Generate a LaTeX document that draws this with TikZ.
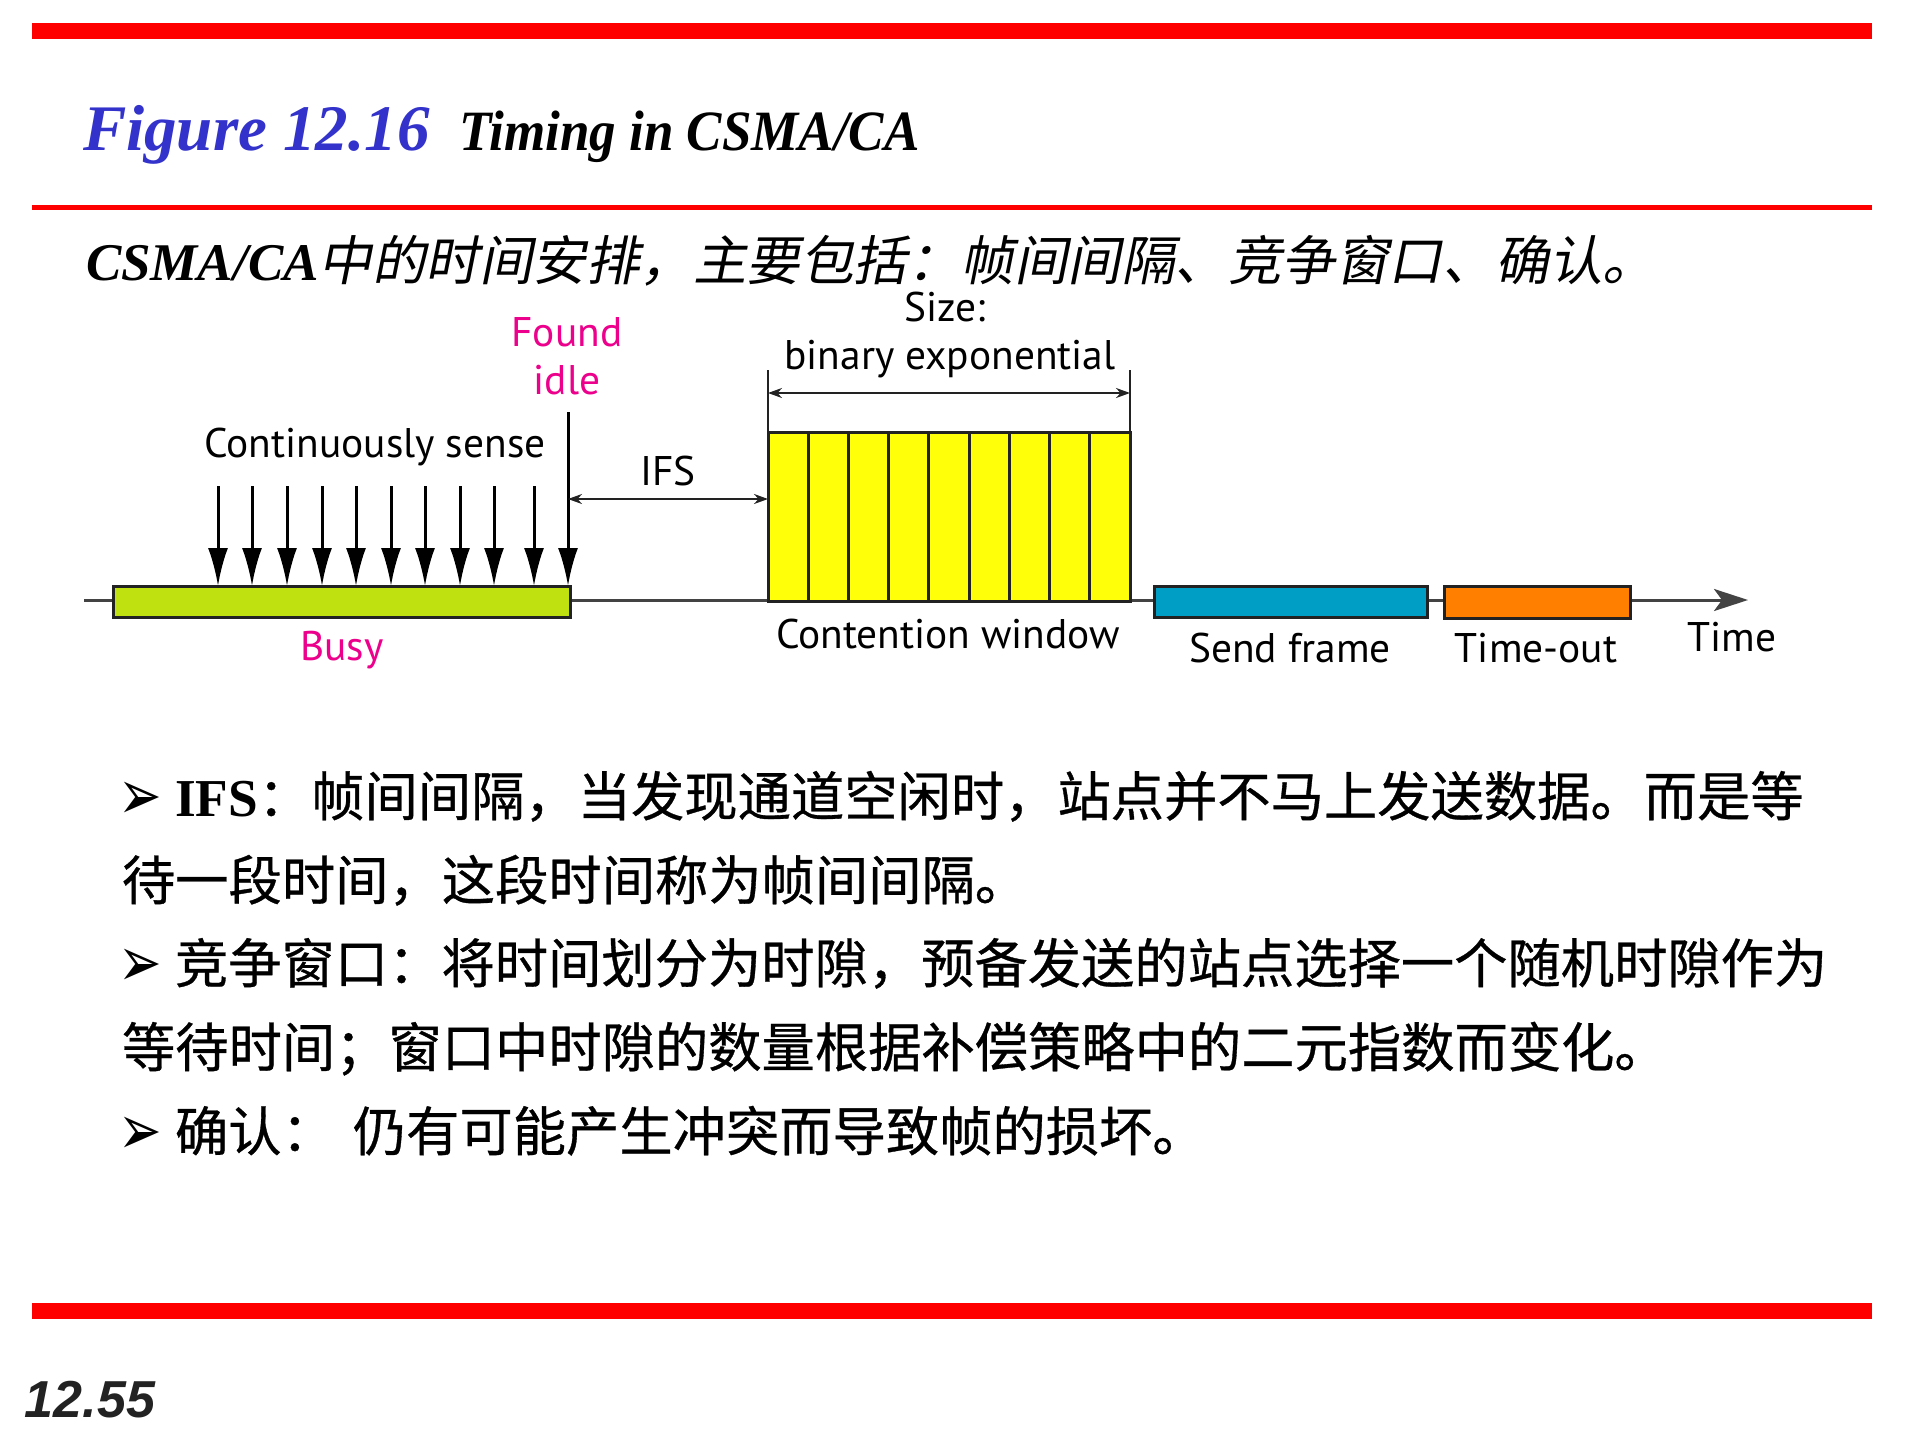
\documentclass[tikz,border=0pt]{standalone}
\usepackage{fontspec}
\usetikzlibrary{arrows.meta,calc}
\setmainfont{Liberation Serif}
\newfontfamily\diagfont{PT Sans}
\newfontfamily\cjk[FakeBold=0.6]{Noto Sans CJK SC}
\newfontfamily\cjkit[FakeSlant=0.2]{Noto Sans CJK SC}
\newfontfamily\symfont{DejaVu Sans}
\newfontfamily\pagefont{Liberation Sans}
\newfontfamily\condserif[FakeStretch=0.93]{Liberation Serif}

\definecolor{busyc}{RGB}{190,225,15}
\definecolor{cwc}{RGB}{255,255,10}
\definecolor{sendc}{RGB}{0,158,196}
\definecolor{toc}{RGB}{255,128,0}
\definecolor{pinkc}{RGB}{236,0,140}
\definecolor{figblue}{RGB}{51,51,204}
\definecolor{ink}{RGB}{34,34,34}
\definecolor{rulered}{RGB}{255,0,0}

\begin{document}
\begin{tikzpicture}[x=0.5pt,y=-0.5pt,
  txt/.style={anchor=base west, inner sep=0pt, outer sep=0pt},
  lbl/.style={anchor=base, inner sep=0pt, font=\diagfont\fontsize{20.7pt}{24pt}\selectfont},
  box/.style={draw=ink, line width=1.5pt, inner sep=0pt, outer sep=0pt, anchor=north west},
  slotline/.style={draw=ink, line width=1.5pt},
  sense/.style={draw=black, line width=1.5pt, -{Latex[length=19pt,width=10pt]}},
  dimarrow/.style={draw=ink, line width=1pt, {Stealth[length=7pt,width=5pt]}-{Stealth[length=7pt,width=5pt]}},
  extline/.style={draw=ink, line width=1pt},
  timeaxis/.style={draw=ink!85, line width=1.5pt, -{Stealth[length=17pt,width=11pt,inset=4pt]}},
  body/.style={txt, font=\fontsize{26.65pt}{30pt}\selectfont},
  bullet/.style={txt, font=\symfont\fontsize{26pt}{30pt}\selectfont}]

\fill[white] (0,0) rectangle (1920,1440);
\useasboundingbox (0,0) rectangle (1920,1440);

% red rules
\fill[rulered] (32,23) rectangle (1872,39);
\fill[rulered] (32,205) rectangle (1872,210);
\fill[rulered] (32,1303) rectangle (1872,1319);

% heading
\node[txt, text=figblue, font=\fontsize{32.5pt}{36pt}\selectfont\bfseries\itshape] (fig) at (83,150) {Figure 12.16};
\node[txt, font=\condserif\fontsize{28.5pt}{32pt}\selectfont\bfseries\itshape] (figtitle) at (459,150) {Timing in CSMA/CA};

% summary line
\node[txt, font=\fontsize{26.5pt}{30pt}\selectfont] (summary) at (86,280)
  {{\bfseries\itshape CSMA/CA}{\cjkit\fontsize{26.75pt}{30pt}\selectfont 中的时间安排，主要包括：帧间间隔、竞争窗口、确认。}};

% time axis
\coordinate (axstart) at (84,600);
\coordinate (axend) at (1748,600);
\draw[timeaxis] (axstart) -- (axend);

% channel states
\node[box, fill=busyc, minimum width=228.5pt, minimum height=15.5pt] (busy) at (113,586) {};
\node[box, fill=cwc, minimum width=181pt, minimum height=84.5pt] (cw) at (768,432) {};
\foreach \i in {1,...,8}
  \draw[slotline] ($(cw.north west)!\i/9!(cw.north east)$) -- ($(cw.south west)!\i/9!(cw.south east)$);
\node[box, fill=sendc, minimum width=136.5pt, minimum height=15.5pt] (send) at (1154,586) {};
\node[box, fill=toc, minimum width=93pt, minimum height=16pt] (tout) at (1444,586) {};

% carrier sensing arrows
\foreach \x [count=\k] in {218,252,287,322,356,391,425,460,494,534} {
  \coordinate (s\k) at (\x,486);
  \draw[sense] (s\k) -- (s\k |- busy.north);
}
\coordinate (idletop) at (568,412);
\draw[sense] (idletop) -- (idletop |- busy.north);

% IFS interval
\coordinate (ifsl) at (568,499);
\draw[dimarrow] (ifsl) -- (cw.west |- ifsl);

% contention window size
\coordinate (extl) at (768,370);
\coordinate (extr) at (1130,370);
\draw[extline] (extl) -- (cw.north west);
\draw[extline] (extr) -- (cw.north east);
\coordinate (diml) at (768,393);
\draw[dimarrow] (diml) -- (cw.east |- diml);

% labels
\node[lbl] (sensetxt) at (375,457) {Continuously sense};
\node[lbl, text=pinkc] (found) at (567,346) {Found};
\node[lbl, text=pinkc] (idle) at (567,394) {idle};
\node[lbl] (ifstxt) at (668,485) {IFS};
\node[lbl, text=pinkc] (busytxt) at (342,660) {Busy};
\node[lbl] (sizetxt) at (945,321) {Size:};
\node[lbl] (bintxt) at (950,369) {binary exponential};
\node[lbl] (cwtxt) at (948,648) {Contention window};
\node[lbl] (sendtxt) at (1290,662) {Send frame};
\node[lbl] (totxt) at (1536,662) {Time-out};
\node[lbl] (timetxt) at (1732,651) {Time};

% explanatory text
\node[bullet] (b1) at (118,819) {\scalebox{1}[1.35]{➢}};
\node[body] (l1) at (175,816) {{\bfseries IFS}{\cjk ：帧间间隔，当发现通道空闲时，站点并不马上发送数据。而是等}};
\node[body] (l2) at (122,900) {\cjk 待一段时间，这段时间称为帧间间隔。};
\node[bullet] (b2) at (118,986) {\scalebox{1}[1.35]{➢}};
\node[body] (l3) at (175,983) {\cjk 竞争窗口：将时间划分为时隙，预备发送的站点选择一个随机时隙作为};
\node[body] (l4) at (122,1067) {\cjk 等待时间；窗口中时隙的数量根据补偿策略中的二元指数而变化。};
\node[bullet] (b3) at (118,1154) {\scalebox{1}[1.35]{➢}};
\node[body] (l5) at (175,1151) {\cjk 确认：\hspace{9pt}仍有可能产生冲突而导致帧的损坏。};

% page number
\node[txt, text=ink, font=\pagefont\fontsize{26pt}{30pt}\selectfont\bfseries\itshape] (pageno) at (25,1417) {12.55};
\end{tikzpicture}
\end{document}
